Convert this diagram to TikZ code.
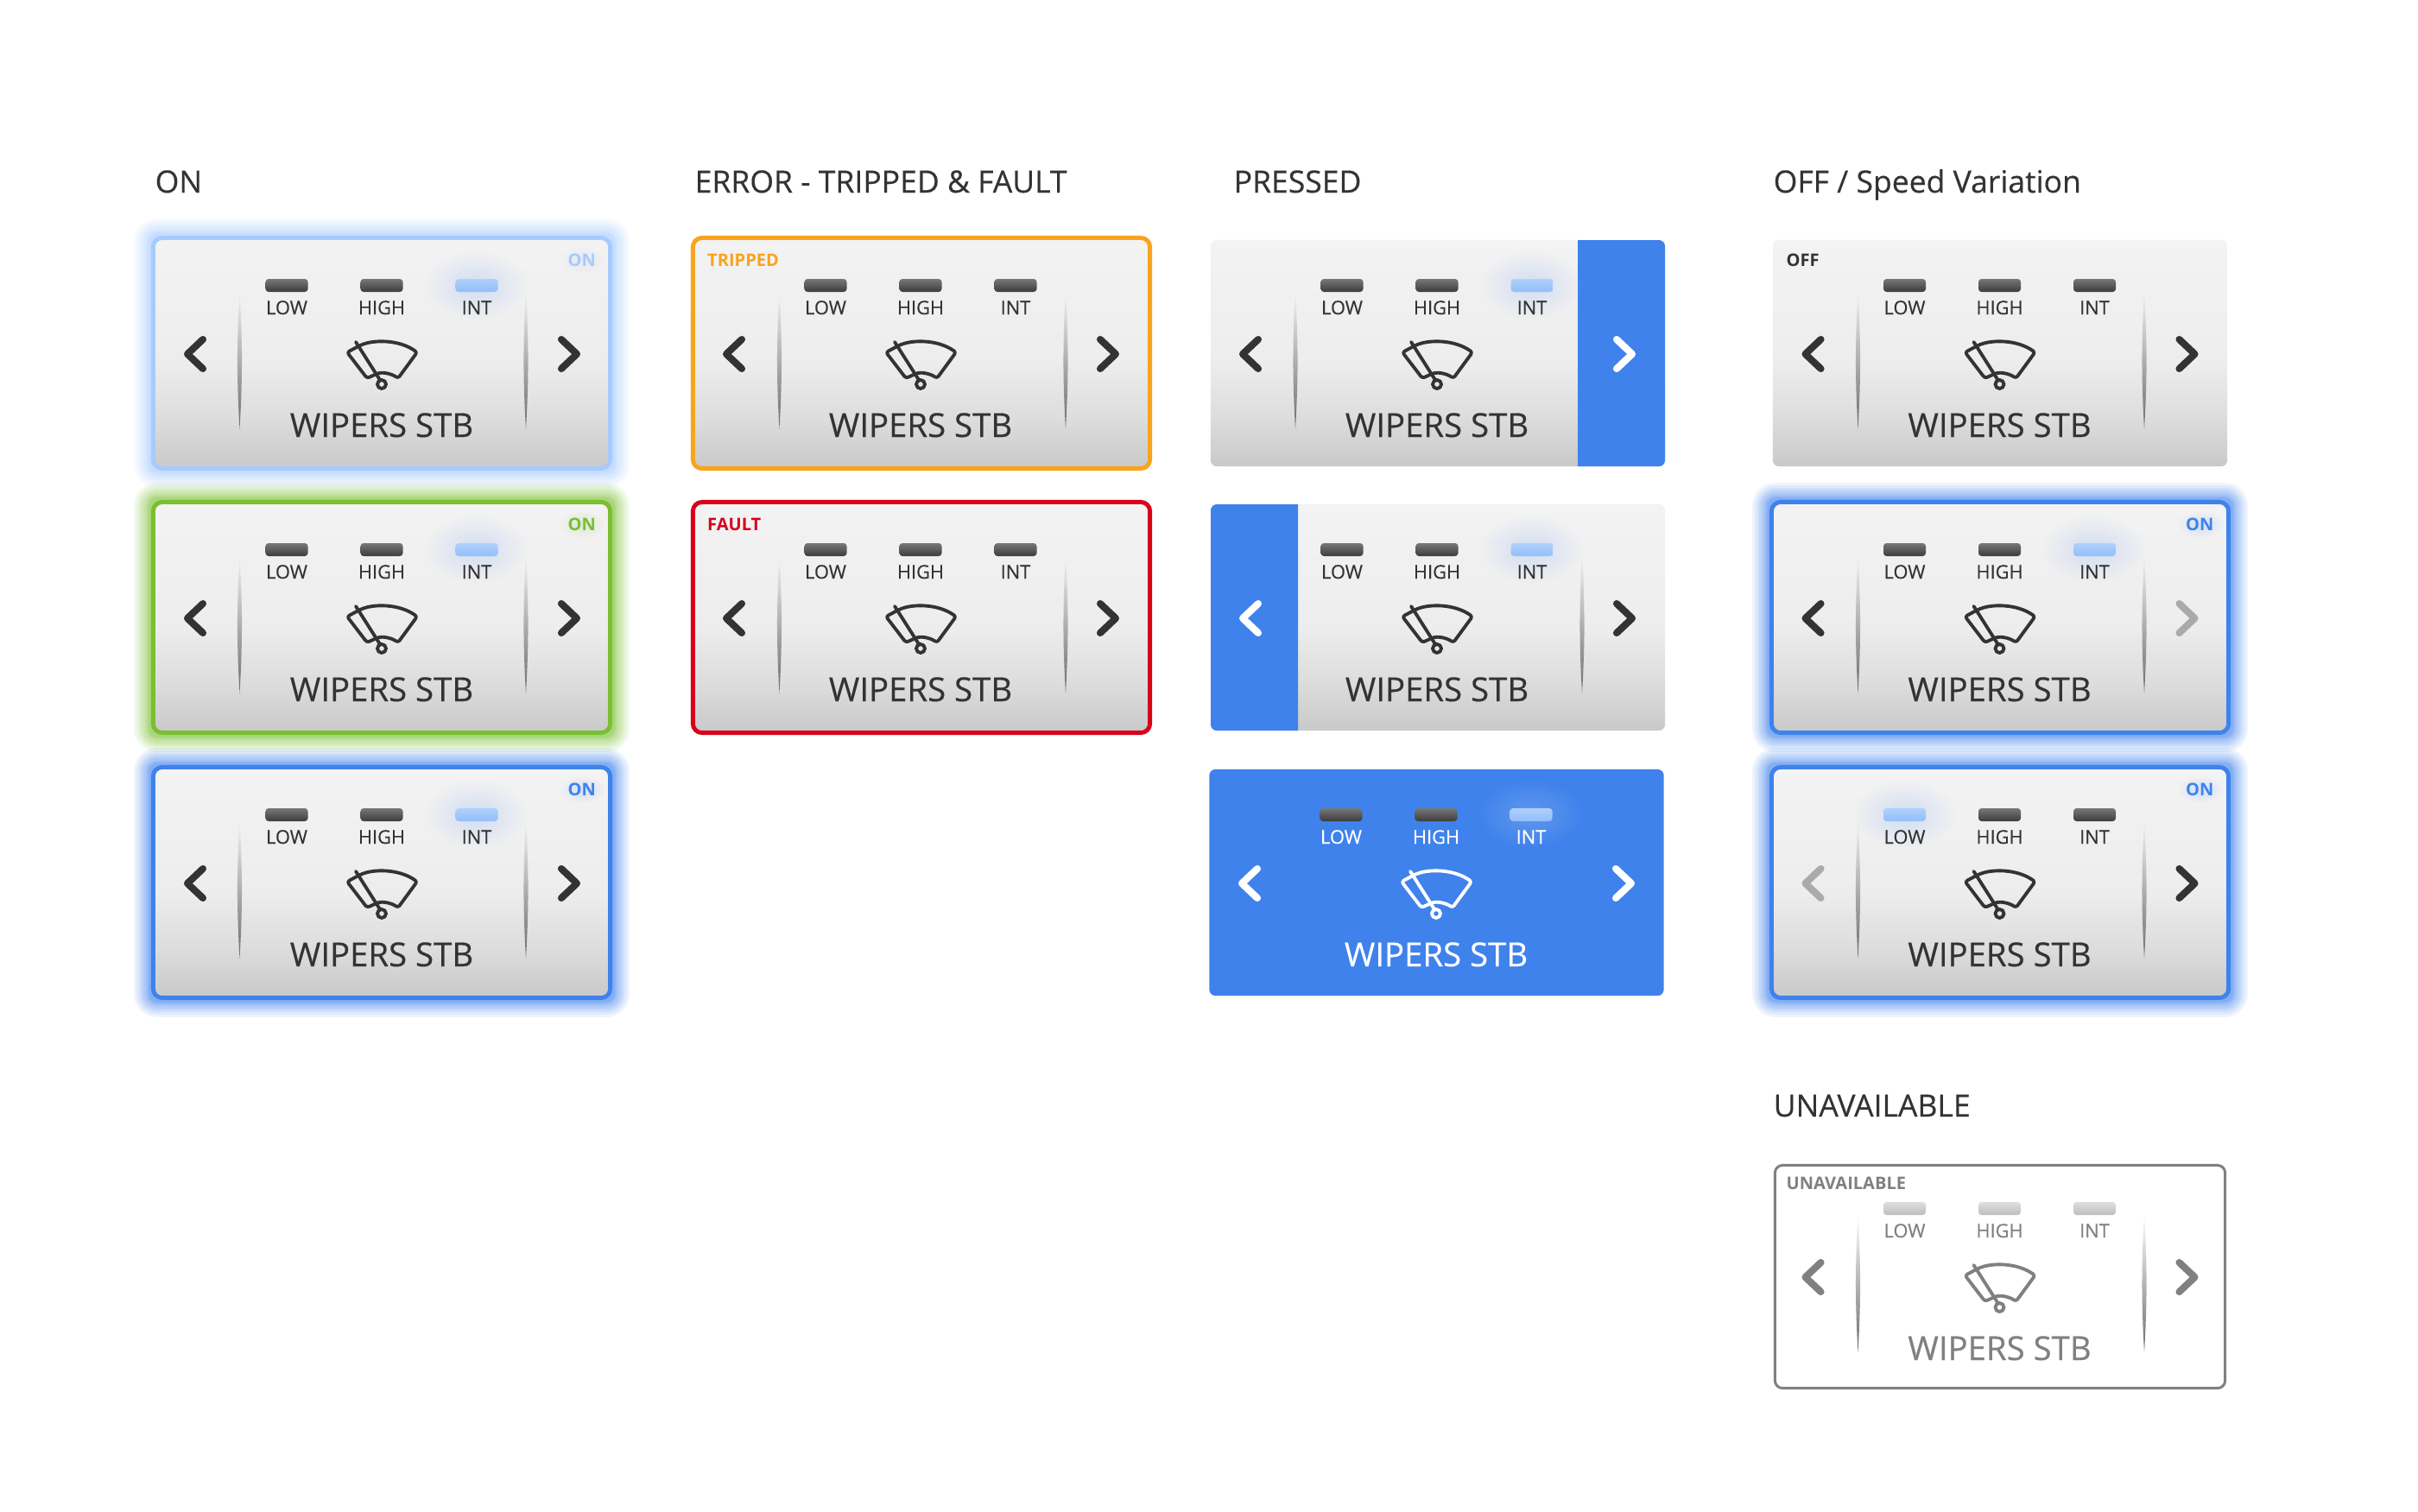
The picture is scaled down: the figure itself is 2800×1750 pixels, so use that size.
\documentclass[tikz,border=0pt]{standalone}
\usepackage{fontspec}
\setmainfont{Open Sans}
\newfontfamily\mediumfont[FakeBold=0.4]{Open Sans}
\definecolor{ink}{RGB}{51,51,51}
\definecolor{dimink}{RGB}{128,128,128}
\definecolor{fadeink}{RGB}{170,170,170}
\definecolor{onpale}{RGB}{166,203,255}
\definecolor{ongreen}{RGB}{122,191,50}
\definecolor{onblue}{RGB}{63,130,236}
\definecolor{tripamber}{RGB}{249,163,30}
\definecolor{faultred}{RGB}{217,0,27}
\definecolor{facetop}{RGB}{243,243,243}
\definecolor{facemid}{RGB}{237,237,237}
\definecolor{facelow}{RGB}{221,221,221}
\definecolor{facebase}{RGB}{201,201,201}
\definecolor{ledhigh}{RGB}{120,120,120}
\definecolor{ledlow}{RGB}{60,60,60}
\definecolor{ledlithigh}{RGB}{176,208,252}
\definecolor{ledlitlow}{RGB}{146,190,250}
\definecolor{ledoffhigh}{RGB}{222,222,222}
\definecolor{ledofflow}{RGB}{190,190,190}
\pgfdeclareverticalshading{facegrey}{100bp}{color(0bp)=(facebase); color(25bp)=(facebase);
	color(36bp)=(facelow); color(48bp)=(facemid); color(75bp)=(facetop); color(100bp)=(facetop)}
\tikzset{
	plateform/.style={rounded corners=2pt,inner sep=0pt,
		minimum width=5.26cm,minimum height=2.62cm},
	faceplate/.style={plateform,shading=facegrey},
	framed/.style={faceplate,draw=#1,line width=1.4pt,rounded corners=3pt,
		minimum width=5.29cm,minimum height=2.67cm},
	blankplate/.style={draw=dimink,fill=white,line width=0.85pt,rounded corners=2.5pt,inner sep=0pt,
		minimum width=5.21cm,minimum height=2.58cm},
	heading/.style={anchor=base west,inner sep=0pt,text=ink,font=\fontsize{10.1}{12}\mediumfont},
	ledbar/.style={rounded corners=1pt,inner sep=0pt,minimum width=0.49cm,minimum height=0.15cm},
	ledoff/.style={ledbar,top color=ledhigh,bottom color=ledlow},
	ledlit/.style={ledbar,top color=ledlithigh,bottom color=ledlitlow},
	ledgrey/.style={ledbar,top color=ledoffhigh,bottom color=ledofflow},
	ledlabel/.style={anchor=base,inner sep=0pt,font=\fontsize{6.2}{7}\mediumfont},
	wipertitle/.style={anchor=base,inner sep=0pt,font=\fontsize{10.9}{12}\mediumfont},
	statetag/.style={inner sep=0pt,font=\fontsize{5.7}{7}\selectfont\bfseries},
	chevron/.style={line width=2.3pt,line cap=round,line join=round},
	wiperglyph/.style={line width=1.1pt,line cap=round,line join=round},
}
% card halo, stacked fills
\newcommand{\cardglow}[3]{%
	\foreach \g in {2,3,4,5,6,8,10,12,14,17,20}
	\fill[#3,opacity=0.09,rounded corners=2pt+\g*0.2845pt]
	(#1-267-\g,#2-136-\g) rectangle (#1+267+\g,#2+136+\g);
}
\newcommand{\softglow}[5]{%
	\foreach \g in {0.2,0.3,...,1.05}
	\fill[#3,opacity=0.04] (#1,#2) ellipse [x radius=\g*#4,y radius=\g*#5];
}
% thin lens between the chevrons and the middle
\newcommand{\wiperrib}[3]{%
	\shade[top color=#3,middle color=gray!75,bottom color=gray!85!black]
	(#1,#2-74) .. controls (#1+3.4,#2-10) and (#1+3.4,#2+30) .. (#1,#2+88)
	.. controls (#1-3.4,#2+30) and (#1-3.4,#2-10) .. (#1,#2-74);
}
\newcommand{\wiperchevron}[3]{%
	\draw[chevron,draw=#1] (#2+208,#3-16) -- (#2+226,#3+1) -- (#2+208,#3+18);
}
% name, x, y, ink, three led styles, left and right chevron colours
\newcommand{\wiperunit}[9]{%
	\node[#5] (#1low) at (#2-110,#3-78.5) {};
	\node[#6] (#1high) at (#2,#3-78.5) {};
	\node[#7] (#1int) at (#2+110,#3-78.5) {};
	\node[ledlabel,text=#4] (#1lowtext) at (#2-110,#3-45) {LOW};
	\node[ledlabel,text=#4] (#1hightext) at (#2,#3-45) {HIGH};
	\node[ledlabel,text=#4] (#1inttext) at (#2+110,#3-45) {INT};
	\node[wipertitle,text=#4] (#1title) at (#2,#3+97) {WIPERS STB};
	\draw[chevron,draw=#8] (#2-207,#3-16) -- (#2-225,#3+1) -- (#2-207,#3+18);
	\wiperchevron{#9}{#2}{#3}
	\draw[wiperglyph,draw=#4,rounded corners=0.8pt]
	(#2-40,#3-1) -- (#2-27,#3-8) .. controls (#2-10,#3-16) and (#2+20,#3-16) .. (#2+41,#3-1)
	-- (#2+19,#3+29) .. controls (#2+10,#3+23) and (#2,#3+22) .. (#2-6,#3+24)
	-- (#2-17,#3+29) -- cycle;
	\draw[wiperglyph,draw=#4] (#2-30,#3-13) -- (#2-2,#3+31);
	\draw[wiperglyph,draw=#4] (#2,#3+36) circle [radius=5];
}
\newcommand{\ontag}[4]{%
	\softglow{#2+233}{#3-107}{#4!45}{26}{15}
	\node[statetag,anchor=base east,text=#4] (#1tag) at (#2+248.5,#3-101) {ON};
}

\begin{document}
\begin{tikzpicture}[x=0.01cm,y=-0.01cm]
	\useasboundingbox (0,0) rectangle (2800,1750);
	
	\node[heading] (headon) at (179,223) {ON};
	\node[heading] (headerror) at (804,223) {ERROR - TRIPPED \& FAULT};
	\node[heading] (headpressed) at (1428,223) {PRESSED};
	\node[heading] (headoff) at (2053,223) {OFF / Speed Variation};
	\node[heading] (headnone) at (2053,1293) {UNAVAILABLE};
	
	% ON
	\cardglow{442}{409}{onpale}
	\node[framed=onpale] (onpale) at (442,409) {};
	\wiperrib{277.5}{409}{facetop}
	\wiperrib{609}{409}{facetop}
	\softglow{551.5}{330}{onpale}{58}{38}
	\wiperunit{onpale}{442}{409}{ink}{ledoff}{ledoff}{ledlit}{ink}{ink}
	\ontag{onpale}{442}{409}{onpale}
	
	\cardglow{442}{715}{ongreen}
	\node[framed=ongreen] (ongreen) at (442,715) {};
	\wiperrib{277.5}{715}{facetop}
	\wiperrib{609}{715}{facetop}
	\softglow{551.5}{636}{onpale}{58}{38}
	\wiperunit{ongreen}{442}{715}{ink}{ledoff}{ledoff}{ledlit}{ink}{ink}
	\ontag{ongreen}{442}{715}{ongreen}
	
	\cardglow{442}{1022}{onblue}
	\node[framed=onblue] (onblue) at (442,1022) {};
	\wiperrib{277.5}{1022}{facetop}
	\wiperrib{609}{1022}{facetop}
	\softglow{551.5}{943}{onpale}{58}{38}
	\wiperunit{onblue}{442}{1022}{ink}{ledoff}{ledoff}{ledlit}{ink}{ink}
	\ontag{onblue}{442}{1022}{onblue}
	
	% ERROR
	\node[framed=tripamber] (tripped) at (1067,409) {};
	\wiperrib{902.5}{409}{facetop}
	\wiperrib{1234}{409}{facetop}
	\wiperunit{tripped}{1066}{409}{ink}{ledoff}{ledoff}{ledoff}{ink}{ink}
	\node[statetag,anchor=base west,text=tripamber] (trippedtag) at (818.5,308) {TRIPPED};
	
	\node[framed=faultred] (fault) at (1067,715) {};
	\wiperrib{902.5}{715}{facetop}
	\wiperrib{1234}{715}{facetop}
	\wiperunit{fault}{1066}{715}{ink}{ledoff}{ledoff}{ledoff}{ink}{ink}
	\node[statetag,anchor=base west,text=faultred] (faulttag) at (818.5,614) {FAULT};
	
	% PRESSED
	\node[faceplate] (pressright) at (1665,409) {};
	\fill[onblue] (1827,278) [rounded corners=2pt] -- (1928,278) -- (1928,540)
	[sharp corners] -- (1827,540) -- cycle;
	\wiperrib{1500}{409}{facetop}
	\softglow{1773.5}{330}{onpale}{58}{38}
	\wiperunit{pressright}{1664}{409}{ink}{ledoff}{ledoff}{ledlit}{ink}{white}
	
	\node[faceplate] (pressleft) at (1665,715) {};
	\fill[onblue] (1503,584) [rounded corners=2pt] -- (1402,584) -- (1402,846)
	[sharp corners] -- (1503,846) -- cycle;
	\wiperrib{1832}{715}{facetop}
	\softglow{1773.5}{636}{onpale}{58}{38}
	\wiperunit{pressleft}{1664}{715}{ink}{ledoff}{ledoff}{ledlit}{white}{ink}
	
	\node[plateform,fill=onblue] (pressall) at (1663.5,1022) {};
	\softglow{1772.5}{943}{onpale}{58}{38}
	\wiperunit{pressall}{1663}{1022}{white}{ledoff}{ledoff}{ledlit}{white}{white}
	
	% OFF / Speed Variation
	\node[faceplate] (offcard) at (2316,409) {};
	\wiperrib{2151.5}{409}{facetop}
	\wiperrib{2483}{409}{facetop}
	\wiperunit{offcard}{2315.5}{409}{ink}{ledoff}{ledoff}{ledoff}{ink}{ink}
	\node[statetag,anchor=base west,text=ink] (offtag) at (2068,308) {OFF};
	
	\cardglow{2316}{715}{onblue}
	\node[framed=onblue] (speedint) at (2316,715) {};
	\wiperrib{2151.5}{715}{facetop}
	\wiperrib{2483}{715}{facetop}
	\softglow{2425}{636}{onpale}{58}{38}
	\wiperunit{speedint}{2315.5}{715}{ink}{ledoff}{ledoff}{ledlit}{ink}{fadeink}
	\ontag{speedint}{2315.5}{715}{onblue}
	
	\cardglow{2316}{1022}{onblue}
	\node[framed=onblue] (speedlow) at (2316,1022) {};
	\wiperrib{2151.5}{1022}{facetop}
	\wiperrib{2483}{1022}{facetop}
	\softglow{2205.5}{943}{onpale}{58}{38}
	\wiperunit{speedlow}{2315.5}{1022}{ink}{ledlit}{ledoff}{ledoff}{fadeink}{ink}
	\ontag{speedlow}{2315.5}{1022}{onblue}
	
	% UNAVAILABLE
	\node[blankplate] (nocard) at (2316,1478.5) {};
	\wiperrib{2151.5}{1478}{white}
	\wiperrib{2483}{1478}{white}
	\wiperunit{nocard}{2315.5}{1478}{dimink}{ledgrey}{ledgrey}{ledgrey}{dimink}{dimink}
	\node[statetag,anchor=base west,text=dimink] (notag) at (2068,1377) {UNAVAILABLE};
	
\end{tikzpicture}
\end{document}
